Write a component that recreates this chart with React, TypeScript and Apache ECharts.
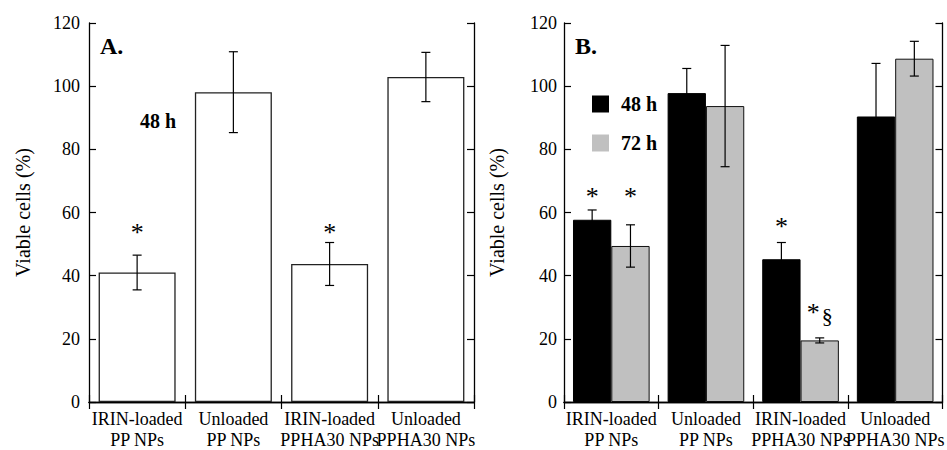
import React, { useEffect, useRef } from 'react';
import * as echarts from 'echarts';

const categories = ['IRIN-loaded\nPP NPs', 'Unloaded\nPP NPs', 'IRIN-loaded\nPPHA30 NPs', 'Unloaded\nPPHA30 NPs'];
const yMin = 0;
const yMax = 120;
const yInterval = 20;

const panelA48h = [41, 98.1, 43.7, 102.9];
const panelA48hErr = [5.5, 12.8, 6.8, 7.8];

const panelB48h = [57.7, 97.8, 45.2, 90.4];
const panelB48hErr = [3.1, 7.8, 5.3, 16.8];
const panelB72h = [49.4, 93.7, 19.5, 108.7];
const panelB72hErr = [6.7, 19.2, 0.8, 5.5];

const markerACats = [0, 2];
const markerAValues = [53.8, 53.8];
const markerAText = ['*', '*'];

const markerBCats = [0, 0, 2, 2];
const markerBSeries = [0, 1, 0, 1];
const markerBValues = [65.2, 65.2, 55.6, 28.4];
const markerBText = ['*', '*', '*', '*§'];

const FONT = '"Liberation Serif", "Times New Roman", serif';

export default function App() {
  const ref = useRef<HTMLDivElement>(null);
  useEffect(() => {
    if (!ref.current) return;
    const chart = echarts.init(ref.current, null, { renderer: 'svg' });

    const errRender = (offsetFrac: number) => (params: any, api: any) => {
      const cat = api.value(0);
      const lo = api.coord([cat, api.value(1)]);
      const hi = api.coord([cat, api.value(2)]);
      const catW = api.size([1, 0])[0];
      const x = lo[0] + offsetFrac * catW;
      const cap = 4.5;
      const style = { stroke: '#000', lineWidth: 1.2 };
      return {
        type: 'group',
        children: [
          { type: 'line', shape: { x1: x, y1: hi[1], x2: x, y2: lo[1] }, style },
          { type: 'line', shape: { x1: x - cap, y1: hi[1], x2: x + cap, y2: hi[1] }, style },
          { type: 'line', shape: { x1: x - cap, y1: lo[1], x2: x + cap, y2: lo[1] }, style },
        ],
      };
    };

    const markerRender = (texts: string[], offsets: number[]) => (params: any, api: any) => {
      const cat = api.value(0);
      const p = api.coord([cat, api.value(1)]);
      const catW = api.size([1, 0])[0];
      const i = params.dataIndex;
      const x = p[0] + offsets[i] * catW;
      const t = texts[i];
      const rich = t.length > 1;
      return {
        type: 'text',
        x,
        y: p[1],
        style: {
          text: rich ? '{a|*}{b|§}' : t,
          fontFamily: FONT,
          fontSize: 26,
          fill: '#000',
          textAlign: 'center',
          textVerticalAlign: 'middle',
          rich: rich
            ? {
                a: { fontSize: 26, fontFamily: FONT, fill: '#000' },
                b: { fontSize: 22, fontFamily: FONT, fill: '#000', padding: [6, 0, 0, 2] },
              }
            : undefined,
        },
      };
    };

    const axisLine = { show: true, lineStyle: { color: '#000', width: 1.3 } };
    const tick = { show: true, inside: true, length: 7, lineStyle: { color: '#000', width: 1.2 } };

    const xAxisBottom = (gridIndex: number) => ({
      type: 'category',
      gridIndex,
      position: 'bottom',
      data: categories,
      axisLine,
      axisTick: tick,
      axisLabel: {
        interval: 0,
        color: '#000',
        fontFamily: FONT,
        fontSize: 18,
        lineHeight: 21,
        margin: 6,
      },
    });
    const xAxisTop = (gridIndex: number) => ({
      type: 'category',
      gridIndex,
      position: 'top',
      data: categories,
      axisLine,
      axisTick: tick,
      axisLabel: { show: false },
    });
    const yAxisLeft = (gridIndex: number, margin: number, nameGap: number) => ({
      type: 'value',
      gridIndex,
      position: 'left',
      min: yMin,
      max: yMax,
      interval: yInterval,
      axisLine,
      axisTick: tick,
      splitLine: { show: false },
      name: 'Viable cells (%)',
      nameLocation: 'middle',
      nameGap,
      nameTextStyle: { color: '#000', fontFamily: FONT, fontSize: 20 },
      axisLabel: { color: '#000', fontFamily: FONT, fontSize: 18, margin },
    });
    const yAxisRight = (gridIndex: number) => ({
      type: 'value',
      gridIndex,
      position: 'right',
      min: yMin,
      max: yMax,
      interval: yInterval,
      axisLine,
      axisTick: tick,
      splitLine: { show: false },
      axisLabel: { show: false },
    });

    const offB = 0.2025;

    chart.setOption({
      animation: false,
      grid: [
        { left: 89, right: 473, top: 23, bottom: 44 },
        { left: 564, right: 1, top: 23, bottom: 44 },
      ],
      xAxis: [xAxisBottom(0), xAxisTop(0), xAxisBottom(1), xAxisTop(1)],
      yAxis: [yAxisLeft(0, 9, 56), yAxisRight(0), yAxisLeft(1, 7, 57), yAxisRight(1)],
      legend: {
        data: ['48 h', '72 h'],
        orient: 'vertical',
        left: 587,
        top: 89,
        itemWidth: 17,
        itemHeight: 17,
        itemGap: 19,
        icon: 'rect',
        itemStyle: { borderWidth: 0 },
        textStyle: {
          color: '#000',
          fontFamily: FONT,
          fontSize: 20,
          fontWeight: 'bold',
          lineHeight: 17,
          padding: [0, 0, 0, 7],
        },
      },
      graphic: [
        { type: 'text', left: 100, top: 34, style: { text: 'A.', font: `bold 24px ${FONT}`, fill: '#000' } },
        { type: 'text', left: 575, top: 34, style: { text: 'B.', font: `bold 24px ${FONT}`, fill: '#000' } },
        { type: 'text', left: 140, top: 111, style: { text: '48 h', font: `bold 20px ${FONT}`, fill: '#000' } },
      ],
      series: [
        {
          type: 'bar',
          name: 'A 48 h',
          xAxisIndex: 0,
          yAxisIndex: 0,
          data: panelA48h,
          barCategoryGap: '20%',
          itemStyle: { color: '#fff', borderColor: '#222', borderWidth: 1.3 },
        },
        {
          type: 'custom',
          xAxisIndex: 0,
          yAxisIndex: 0,
          renderItem: errRender(0),
          data: panelA48h.map((v, i) => [i, v - panelA48hErr[i], v + panelA48hErr[i]]),
          encode: { x: 0, y: [1, 2] },
          z: 5,
        },
        {
          type: 'custom',
          xAxisIndex: 0,
          yAxisIndex: 0,
          renderItem: markerRender(markerAText, markerACats.map(() => 0)),
          data: markerACats.map((c, i) => [c, markerAValues[i]]),
          encode: { x: 0, y: 1 },
          z: 6,
        },
        {
          type: 'bar',
          name: '48 h',
          xAxisIndex: 2,
          yAxisIndex: 2,
          data: panelB48h,
          barCategoryGap: '19%',
          barGap: '0%',
          itemStyle: { color: '#000', borderColor: '#000', borderWidth: 1 },
        },
        {
          type: 'bar',
          name: '72 h',
          xAxisIndex: 2,
          yAxisIndex: 2,
          data: panelB72h,
          barCategoryGap: '19%',
          barGap: '0%',
          itemStyle: { color: '#c0c0c0', borderColor: '#111', borderWidth: 1 },
        },
        {
          type: 'custom',
          xAxisIndex: 2,
          yAxisIndex: 2,
          renderItem: errRender(-offB),
          data: panelB48h.map((v, i) => [i, v - panelB48hErr[i], v + panelB48hErr[i]]),
          encode: { x: 0, y: [1, 2] },
          z: 5,
        },
        {
          type: 'custom',
          xAxisIndex: 2,
          yAxisIndex: 2,
          renderItem: errRender(offB),
          data: panelB72h.map((v, i) => [i, v - panelB72hErr[i], v + panelB72hErr[i]]),
          encode: { x: 0, y: [1, 2] },
          z: 5,
        },
        {
          type: 'custom',
          xAxisIndex: 2,
          yAxisIndex: 2,
          renderItem: markerRender(markerBText, markerBSeries.map((s) => (s === 0 ? -offB : offB))),
          data: markerBCats.map((c, i) => [c, markerBValues[i]]),
          encode: { x: 0, y: 1 },
          z: 6,
        },
      ],
    });
    return () => chart.dispose();
  }, []);
  return <div ref={ref} style={{ position: 'fixed', left: 0, top: 0, width: 947, height: 450, background: '#fff' }} />;
}
